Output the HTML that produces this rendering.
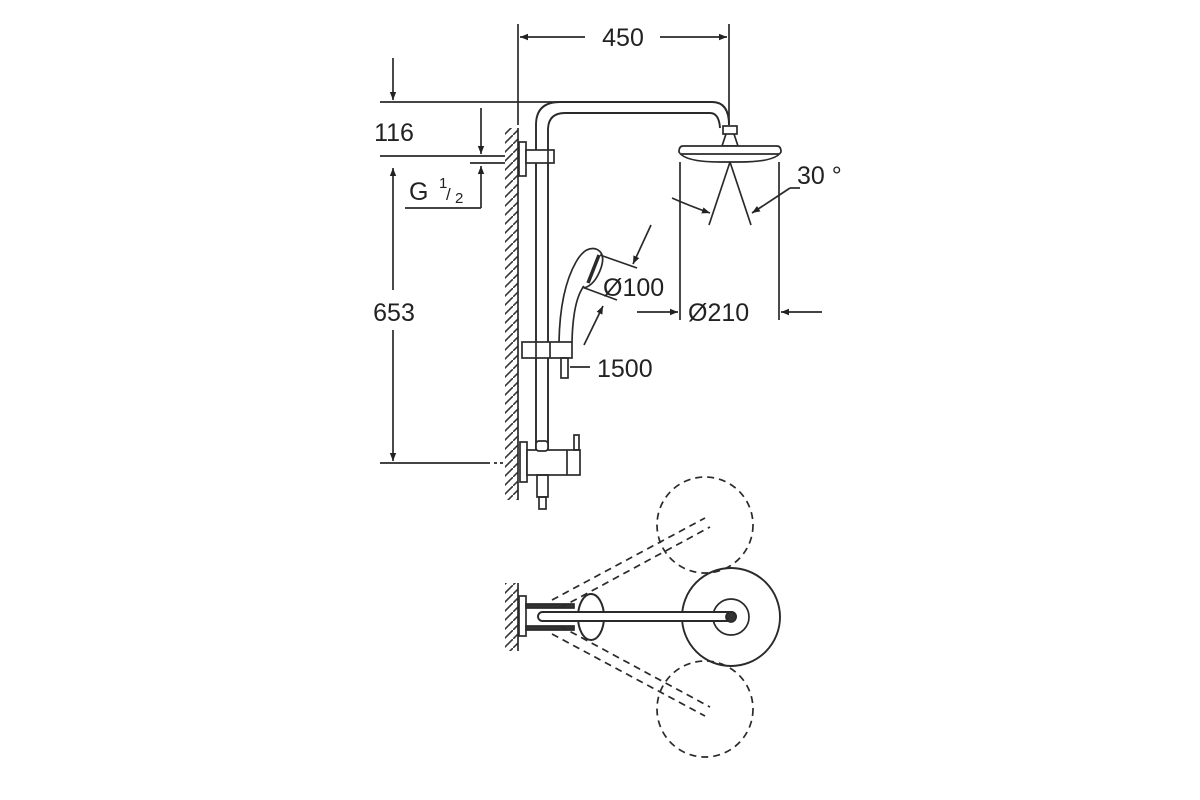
<!DOCTYPE html>
<html><head><meta charset="utf-8"><style>
html,body{margin:0;padding:0;background:#fff}
svg{display:block}
text{font-family:"Liberation Sans",sans-serif;fill:#222}
</style></head><body>
<svg width="1200" height="800" viewBox="0 0 1200 800" xmlns="http://www.w3.org/2000/svg">
<defs>
<pattern id="h" width="9" height="9" patternUnits="userSpaceOnUse">
<line x1="0" y1="9" x2="9" y2="0" stroke="#333" stroke-width="1.6"/>
</pattern>
<marker id="a" viewBox="0 0 10 10" refX="10" refY="5" markerWidth="14" markerHeight="8" orient="auto-start-reverse" markerUnits="userSpaceOnUse">
<path d="M0,1 L10,5 L0,9 z" fill="#222"/>
</marker>
</defs>
<g stroke="#2a2a2a" stroke-width="1.7" fill="none">
<!-- 450 dimension -->
<line x1="518" y1="24" x2="518" y2="125"/>
<line x1="729" y1="24" x2="729" y2="125"/>
<line x1="520" y1="37" x2="585" y2="37" marker-start="url(#a)"/>
<line x1="660" y1="37" x2="727" y2="37" marker-end="url(#a)"/>
<!-- left dims -->
<line x1="380" y1="102" x2="560" y2="102"/>
<line x1="393" y1="58" x2="393" y2="100" marker-end="url(#a)"/>
<line x1="380" y1="156" x2="505" y2="156"/>
<line x1="481" y1="108" x2="481" y2="154" marker-end="url(#a)"/>
<line x1="481" y1="208" x2="481" y2="166" marker-end="url(#a)"/>
<line x1="470" y1="163" x2="505" y2="163"/>
<line x1="405" y1="208" x2="481" y2="208"/>
<line x1="393" y1="168" x2="393" y2="290" marker-start="url(#a)"/>
<line x1="393" y1="330" x2="393" y2="461" marker-end="url(#a)"/>
<line x1="380" y1="463" x2="490" y2="463"/>
<line x1="494" y1="463" x2="505" y2="463" stroke-dasharray="3 3"/>
<!-- wall hatch -->
<rect x="505" y="128" width="13" height="372" fill="url(#h)" stroke="none"/>
<line x1="518" y1="128" x2="518" y2="500"/>
<!-- pipe -->
<path d="M536,342 V125 Q536,102 560,102 H712 Q729,102 729,125" stroke-width="1.9"/>
<path d="M548,342 V130 Q548,113 565,113 H710 Q719,113 720,128" stroke-width="1.9"/>
<line x1="536" y1="358" x2="536" y2="450" stroke-width="1.9"/>
<line x1="548" y1="358" x2="548" y2="450" stroke-width="1.9"/>
<!-- top bracket -->
<rect x="519" y="142" width="7" height="34" fill="#fff"/>
<rect x="526" y="150" width="28" height="13" fill="#fff"/>
<line x1="548" y1="150" x2="548" y2="163"/>
<!-- head -->
<rect x="723" y="126" width="14" height="8" fill="#fff"/>
<path d="M726,134 L722,146 H738 L734,134"/>
<path d="M683,146 H777 Q781,146 781,152 Q775,162 740,162 H720 Q685,162 679,152 Q679,146 683,146 Z" fill="#fff"/>
<line x1="681" y1="154" x2="779" y2="154"/>
<!-- 30 deg -->
<line x1="730" y1="162" x2="709" y2="225"/>
<line x1="730" y1="162" x2="751" y2="225"/>
<line x1="680" y1="162" x2="680" y2="320"/>
<line x1="779" y1="162" x2="779" y2="320"/>
<path d="M672,198 Q690,206 710,213" marker-end="url(#a)"/>
<path d="M790,188 Q772,200 752,213" marker-end="url(#a)"/>
<line x1="790" y1="188" x2="800" y2="188"/>
<!-- 210 dim -->
<line x1="637" y1="312" x2="678" y2="312" marker-end="url(#a)"/>
<line x1="822" y1="312" x2="781" y2="312" marker-end="url(#a)"/>
<!-- hand shower -->
<path d="M559,342 Q560,290 576,262"/>
<path d="M572,342 Q573,300 584,286"/>
<path d="M576,262 Q585,246 596,249 Q606,253 601,268 Q595,285 584,288"/>
<path d="M588,283 L599,255" stroke-width="3.5"/>
<line x1="600" y1="255" x2="637" y2="268"/>
<line x1="582" y1="287" x2="617" y2="300"/>
<line x1="651" y1="225" x2="633" y2="264" marker-end="url(#a)"/>
<line x1="584" y1="345" x2="603" y2="306" marker-end="url(#a)"/>
<!-- slider -->
<rect x="522" y="342" width="50" height="16" fill="#fff"/>
<line x1="536" y1="342" x2="536" y2="358"/><line x1="550" y1="342" x2="550" y2="358"/>
<rect x="561" y="358" width="7" height="20"/>
<line x1="570" y1="367" x2="590" y2="367"/>
<!-- mixer -->
<rect x="520" y="442" width="7" height="40" fill="#fff"/>
<rect x="527" y="450" width="53" height="25" fill="#fff"/>
<rect x="536" y="441" width="12" height="10" rx="3" fill="#fff"/>
<line x1="567" y1="450" x2="567" y2="475"/>
<rect x="574" y="435" width="5" height="15"/>
<rect x="537" y="475" width="11" height="22"/>
<rect x="539" y="497" width="7" height="12"/>
<!-- bottom view -->
<rect x="505" y="583" width="13" height="68" fill="url(#h)" stroke="none"/>
<line x1="518" y1="583" x2="518" y2="651"/>
<rect x="519" y="596" width="7" height="40" fill="#fff"/>
<rect x="526" y="604" width="48" height="4" fill="#333"/>
<rect x="526" y="626" width="48" height="4" fill="#333"/>
<circle cx="731" cy="617" r="49" stroke-width="1.9"/>
<circle cx="731" cy="617" r="18"/>
<ellipse cx="591" cy="617" rx="13" ry="23" fill="#fff" stroke-width="2"/>
<rect x="538" y="612" width="198" height="9" rx="4.5" fill="#fff" stroke-width="1.9"/>
<circle cx="731" cy="617" r="5" fill="#333"/>
<g stroke-dasharray="7 5">
<circle cx="705" cy="525" r="48"/>
<circle cx="705" cy="709" r="48"/>
<line x1="552" y1="600" x2="705" y2="518"/>
<line x1="560" y1="608" x2="710" y2="527"/>
<line x1="552" y1="634" x2="705" y2="716"/>
<line x1="560" y1="626" x2="710" y2="707"/>
</g>
</g>
<g font-size="25">
<text x="623" y="46" text-anchor="middle">450</text>
<text x="394" y="141" text-anchor="middle">116</text>
<text x="394" y="321" text-anchor="middle">653</text>
<text x="409" y="200">G</text>
<text x="439" y="188" font-size="15">1</text>
<text x="446" y="200" font-size="17">/</text>
<text x="455" y="203" font-size="15">2</text>
<text x="797" y="184">30 °</text>
<text x="603" y="296">Ø100</text>
<text x="688" y="321">Ø210</text>
<text x="597" y="377">1500</text>
</g>
</svg>
</body></html>
